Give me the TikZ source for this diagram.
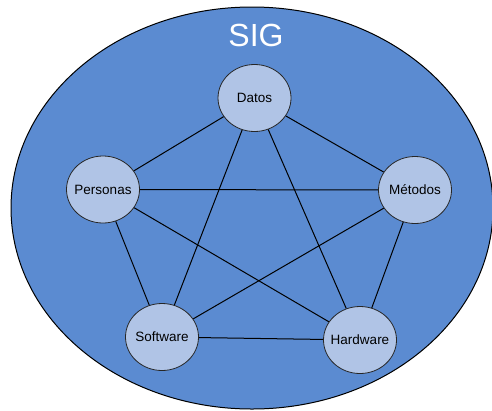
\documentclass[tikz,border=0pt]{standalone}
\usepackage{fontspec}
\setmainfont{Liberation Sans}
\usetikzlibrary{shapes.geometric}
\definecolor{bigblue}{HTML}{5B8BD1}
\definecolor{smallblue}{HTML}{B0C4E6}
\newcommand{\zlabel}[1]{\makebox[0pt]{#1}}
\tikzset{
  comp/.style={ellipse, draw=black!85, line width=0.8pt, fill=smallblue, minimum width=73pt, minimum height=67pt, inner sep=0pt, font=\fontsize{13.5}{15}\selectfont},
  link/.style={draw=black, line width=1pt}
}
\begin{document}
\begin{tikzpicture}[x=1pt,y=-1pt]
\useasboundingbox (0,0) rectangle (492,410);
\fill[white] (0,0) rectangle (492,410);
\draw[fill=bigblue, line width=1pt] (252,208) ellipse [x radius=241, y radius=201];
\node[text=white, font=\fontsize{32}{36}\selectfont] (sig) at (256,35) {SIG};
\node[comp] (datos) at (254.5,98) {\zlabel{Datos}};
\node[comp] (personas) at (103,189.5) {\zlabel{Personas}};
\node[comp] (metodos) at (415,190) {\zlabel{Métodos}};
\node[comp] (software) at (162,337) {\zlabel{Software}};
\node[comp] (hardware) at (360,340) {\zlabel{Hardware}};
\draw[link] (datos) -- (personas);
\draw[link] (datos) -- (metodos);
\draw[link] (datos) -- (software);
\draw[link] (datos) -- (hardware);
\draw[link] (personas) -- (metodos);
\draw[link] (personas) -- (software);
\draw[link] (personas) -- (hardware);
\draw[link] (metodos) -- (software);
\draw[link] (metodos) -- (hardware);
\draw[link] (software) -- (hardware);
\end{tikzpicture}
\end{document}
